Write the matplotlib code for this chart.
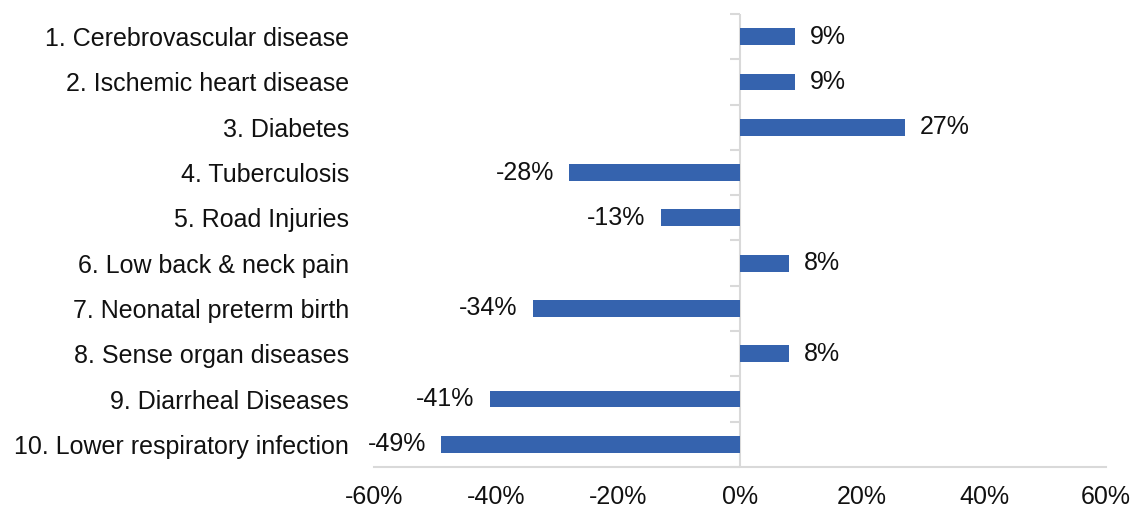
import matplotlib.pyplot as plt
import numpy as np

causes = ['1. Cerebrovascular disease', '2. Ischemic heart disease', '3. Diabetes',
          '4. Tuberculosis', '5. Road Injuries', '6. Low back & neck pain',
          '7. Neonatal preterm birth', '8. Sense organ diseases',
          '9. Diarrheal Diseases', '10. Lower respiratory infection']
change_pct = [9, 9, 27, -28, -13, 8, -34, 8, -41, -49]
xticks = [-60, -40, -20, 0, 20, 40, 60]

BAR_COLOR = '#3563AE'
AXIS_COLOR = '#D9D9D9'
FS = 18

plt.rcParams['font.family'] = ['Liberation Sans', 'DejaVu Sans']

fig = plt.figure(figsize=(11.38, 5.16), dpi=100)
ax = fig.add_axes([0.3287, 0.095, 0.9719 - 0.3287, 0.9729 - 0.095])

y = np.arange(len(causes))
bars = ax.barh(y, change_pct, height=0.37, color=BAR_COLOR, zorder=3)
ax.bar_label(bars, labels=[f'{v}%' for v in change_pct], padding=11,
             fontsize=FS, color='#111111')

ax.set_xlim(-60, 60)
ax.set_ylim(len(causes) - 0.5, -0.5)
ax.set_xticks(xticks)
ax.set_xticklabels([f'{t}%' for t in xticks], fontsize=FS, color='#111111')
ax.set_yticks(y)
ax.set_yticklabels(causes, fontsize=FS, color='#111111')
ax.tick_params(axis='x', length=0, pad=13)
ax.tick_params(axis='y', length=0, pad=18)

for side in ['left', 'right', 'top']:
    ax.spines[side].set_visible(False)
ax.spines['bottom'].set_color(AXIS_COLOR)
ax.spines['bottom'].set_linewidth(1.5)

# vertical zero axis with small ticks between categories (pointing left)
ax.axvline(0, color=AXIS_COLOR, linewidth=1.5, zorder=2)
zero_axis = ax.secondary_yaxis(0.5)
for sp in zero_axis.spines.values():
    sp.set_visible(False)
zero_axis.yaxis.set_ticks_position('left')
zero_axis.set_yticks(np.arange(len(causes) + 1) - 0.5)
zero_axis.set_yticklabels([])
zero_axis.tick_params(length=7, width=1.5, color=AXIS_COLOR, direction='out')

plt.savefig('out.png', dpi=100)
